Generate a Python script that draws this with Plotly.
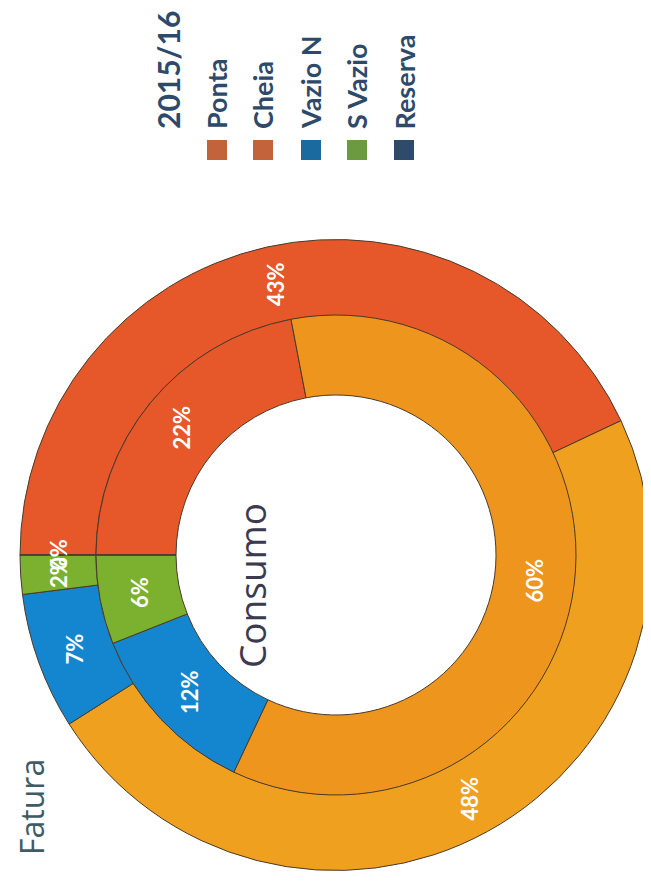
import math
import plotly.graph_objects as go

# ---- data ----
categories = ["Ponta", "Cheia", "Vazio N", "S Vazio", "Reserva"]
fatura_pct = [43, 48, 7, 2, 0]      # outer ring
consumo_pct = [22, 60, 12, 6, 0]    # inner ring
legend_title = "2015/16"
ring_outer_title = "Fatura"
ring_inner_title = "Consumo"

# ---- styles ----
outer_colors = ["#E6572A", "#F0A01F", "#1486CF", "#7CB12F", "#2E4B6C"]
inner_colors = ["#E6572A", "#EE951E", "#1486CF", "#7CB12F", "#2E4B6C"]
legend_colors = ["#C2633C", "#C2633C", "#1B6A9F", "#6B9B40", "#2E4B6C"]

PAGE_W, PAGE_H = 651, 891
OFF = 8                      # default body margin of the page
W, H = PAGE_W - OFF, PAGE_H - OFF
CX, CY = 336, 555            # pie centre in page pixels
R_OUT, R_MID, R_HOLE = 316, 240, 160

def px2x(px):
    return (px - OFF) / W

def py2y(py):
    return 1 - (py - OFF) / H

line = dict(color="#4A3A2A", width=1)

fig = go.Figure()
fig.add_trace(go.Pie(
    labels=categories, values=fatura_pct, sort=False, direction="clockwise",
    rotation=270, hole=R_MID / R_OUT, textinfo="none", hoverinfo="label+percent",
    marker=dict(colors=outer_colors, line=line), showlegend=False,
    domain=dict(x=[px2x(CX - R_OUT), min(1, px2x(CX + R_OUT))],
                y=[py2y(CY + R_OUT), py2y(CY - R_OUT)]),
))
fig.add_trace(go.Pie(
    labels=categories, values=consumo_pct, sort=False, direction="clockwise",
    rotation=270, hole=R_HOLE / R_MID, textinfo="none", hoverinfo="label+percent",
    marker=dict(colors=inner_colors, line=line), showlegend=False,
    domain=dict(x=[px2x(CX - R_MID), px2x(CX + R_MID)],
                y=[py2y(CY + R_MID), py2y(CY - R_MID)]),
))

annotations = []
pct_font = dict(family="Lato", size=22, color="white")

def ring_labels(values, radius, show_zero):
    total = sum(values)
    cum = 0
    for v in values:
        theta = math.radians(180 - 360 * (cum + v / 2) / total)
        px = CX + radius * math.cos(theta)
        py = CY - radius * math.sin(theta)
        if v > 0 or show_zero:
            annotations.append(dict(
                x=px2x(px), y=py2y(py), xref="paper", yref="paper",
                text="<b>%d%%</b>" % v, showarrow=False, textangle=-90,
                xanchor="center", yanchor="middle", font=pct_font))
        cum += v

ring_labels(fatura_pct, (R_OUT + R_MID) / 2, True)
ring_labels(consumo_pct, (R_MID + R_HOLE) / 2, False)

# centre / ring titles
annotations.append(dict(x=px2x(251), y=py2y(586), xref="paper", yref="paper",
                        text=ring_inner_title, showarrow=False, textangle=-90,
                        xanchor="center", yanchor="middle",
                        font=dict(family="Open Sans", size=37, color="#3B3A4E")))
annotations.append(dict(x=px2x(31), y=py2y(807), xref="paper", yref="paper",
                        text=ring_outer_title, showarrow=False, textangle=-90,
                        xanchor="center", yanchor="middle",
                        font=dict(family="Open Sans", size=32, color="#3F5B66")))

# custom rotated legend
annotations.append(dict(x=px2x(168), y=py2y(70), xref="paper", yref="paper",
                        text="<b>%s</b>" % legend_title, showarrow=False, textangle=-90,
                        xanchor="center", yanchor="middle",
                        font=dict(family="Lato", size=30, color="#2D4A6B")))
shapes = []
leg_x = [217, 263, 311, 357, 404]
for name, col, lx in zip(categories, legend_colors, leg_x):
    annotations.append(dict(x=px2x(lx), y=py2y(131), xref="paper", yref="paper",
                            text="<b>%s</b>" % name, showarrow=False, textangle=-90,
                            xanchor="center", yanchor="bottom",
                            font=dict(family="Lato", size=27, color="#2D4A6B")))
    shapes.append(dict(type="rect", xref="paper", yref="paper",
                       x0=px2x(lx - 10), x1=px2x(lx + 10),
                       y0=py2y(160), y1=py2y(140),
                       fillcolor=col, line=dict(width=0)))

fig.update_layout(
    width=W, height=H, margin=dict(l=0, r=0, t=0, b=0),
    paper_bgcolor="white", plot_bgcolor="white",
    annotations=annotations, shapes=shapes,
)
fig.write_html("out.html")
